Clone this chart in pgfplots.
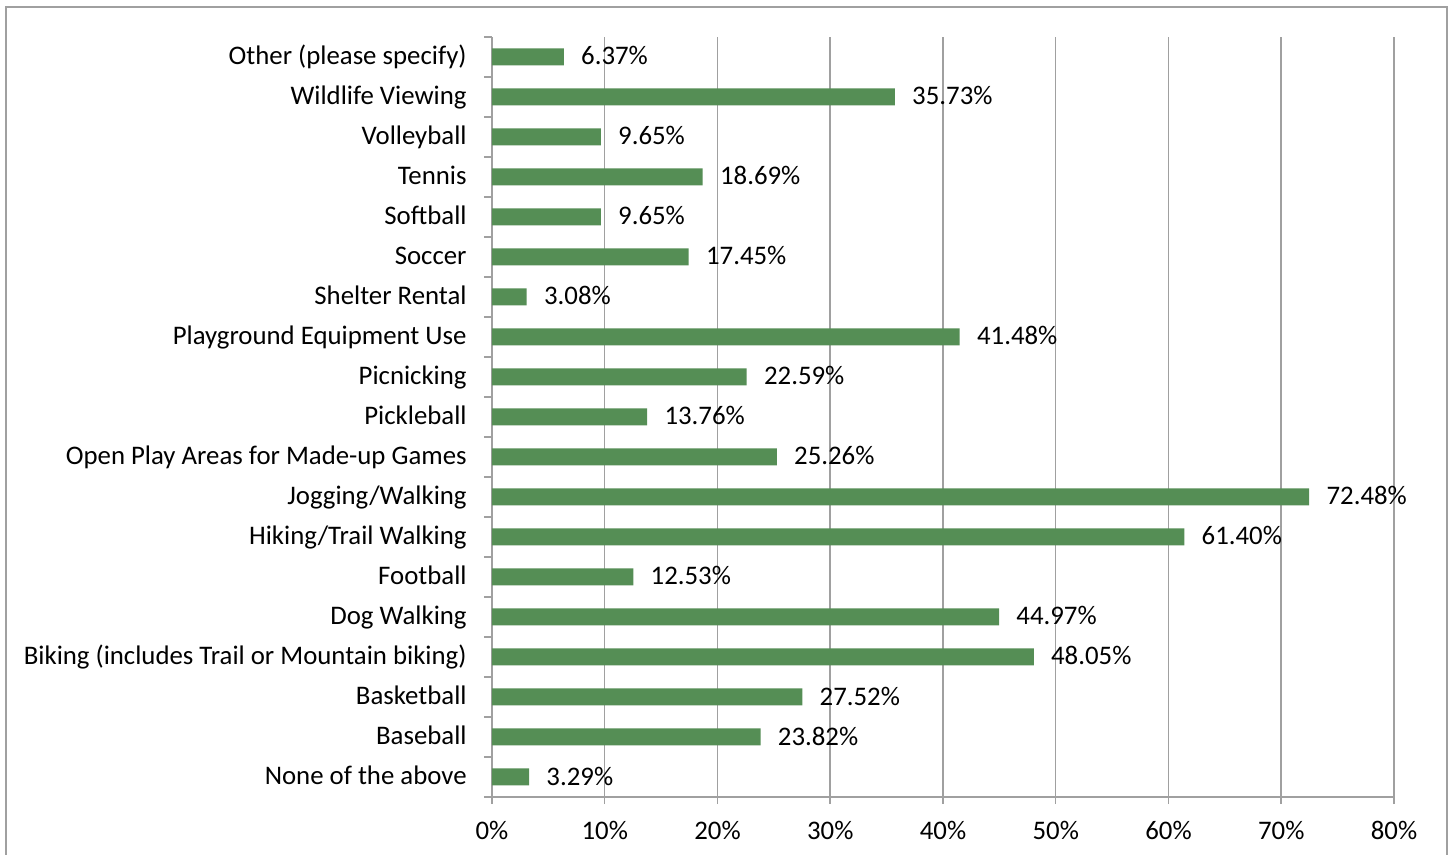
\documentclass[border=0pt]{standalone}
\usepackage{pgfplots}
\pgfplotsset{compat=1.18}
\usepackage{pgfplotstable}
\usepackage{fontspec}
\setmainfont{Carlito}
\definecolor{barg}{RGB}{85,142,85}
\definecolor{gridg}{RGB}{160,160,160}

% y = category position (0 = bottom), x = percent
\pgfplotstableread{
y x
0 3.29
1 23.82
2 27.52
3 48.05
4 44.97
5 12.53
6 61.40
7 72.48
8 25.26
9 13.76
10 22.59
11 41.48
12 3.08
13 17.45
14 9.65
15 18.69
16 9.65
17 35.73
18 6.37
}\usage

\begin{document}
\begin{tikzpicture}[font=\fontsize{13.4bp}{15bp}\selectfont]
\useasboundingbox (-246bp,-29bp) rectangle (479bp,398.5bp);
\draw[gridg, line width=0.8bp] (-243bp,-40bp) rectangle (477.5bp,395bp);
\begin{axis}[
    at={(0,0)}, anchor=south west,
    scale only axis,
    width=451bp, height=380bp,
    xbar, bar width=8.5bp,
    xmin=0, xmax=80,
    ymin=-0.5, ymax=18.5,
    xtick={0,10,...,80},
    xticklabels={0\%,10\%,20\%,30\%,40\%,50\%,60\%,70\%,80\%},
    ytick={0,...,18},
    yticklabels={None of the above,Baseball,Basketball,
        Biking (includes Trail or Mountain biking),Dog Walking,Football,
        Hiking/Trail Walking,Jogging/Walking,Open Play Areas for Made-up Games,
        Pickleball,Picnicking,Playground Equipment Use,Shelter Rental,Soccer,
        Softball,Tennis,Volleyball,Wildlife Viewing,Other (please specify)},
    minor ytick={-0.5,0.5,...,18.5},
    xmajorgrids,
    grid style={gridg, line width=0.75bp},
    axis x line*=bottom, axis y line*=left,
    axis line style={gridg, line width=0.75bp},
    tick align=outside,
    major tick length=3.5bp, minor tick length=4bp,
    major x tick style={gridg, line width=0.75bp},
    major y tick style={draw=none},
    minor y tick style={gridg, line width=0.75bp},
    xticklabel style={inner sep=0pt, anchor=north, yshift=-8.5bp},
    yticklabel style={inner sep=0pt, anchor=base east, xshift=-9bp, yshift=-3.8bp},
    nodes near coords={\pgfmathprintnumber[fixed,fixed zerofill,precision=2]{\pgfplotspointmeta}\%},
    every node near coord/.append style={anchor=base west, inner sep=0pt, xshift=8.5bp, yshift=-4bp, text=black},
    /pgf/number format/assume math mode=true,
]
\addplot[fill=barg, draw=none] table[x=x, y=y] {\usage};
\end{axis}
\end{tikzpicture}
\end{document}
